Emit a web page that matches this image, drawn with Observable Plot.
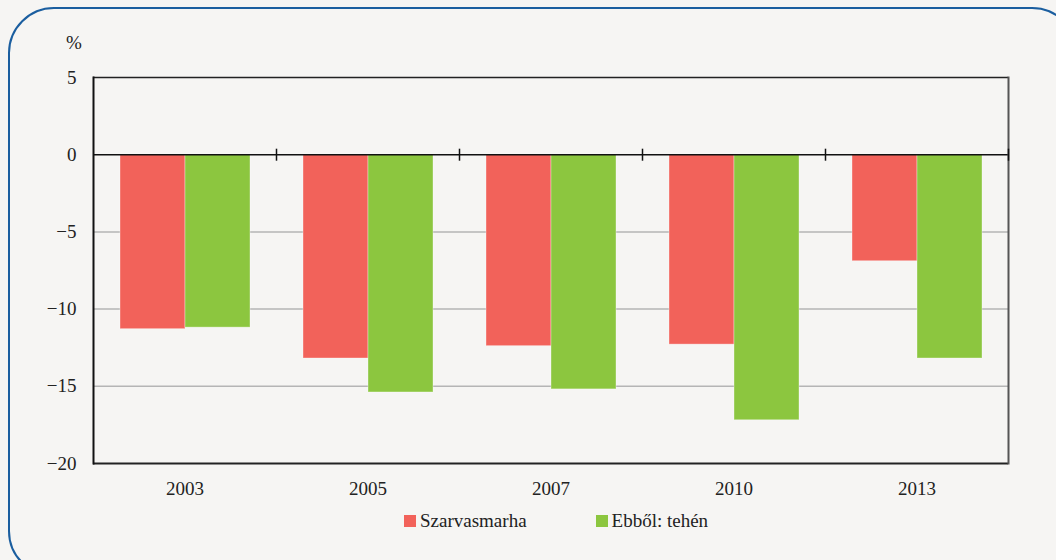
<!DOCTYPE html>
<html>
<head>
<meta charset="utf-8">
<script src="https://cdn.jsdelivr.net/npm/d3@7"></script>
<script src="https://cdn.jsdelivr.net/npm/@observablehq/plot@0.6"></script>
<style>
  html, body { margin: 0; padding: 0; background: #f6f5f3; width: 1056px; height: 560px; overflow: hidden; }
  #box { position: absolute; left: 8px; top: 7px; width: 1070px; height: 570px; border: 2px solid #1b5e9f; border-radius: 46px; box-sizing: border-box; }
  #chart { position: absolute; left: 0; top: 0; }
  #chart svg text { font-family: "Liberation Serif", "DejaVu Serif", serif !important; fill: #222; }
  #pct { position: absolute; left: 66px; top: 32px; font: 19px "Liberation Serif", "DejaVu Serif", serif; color: #222; }
  #legend { position: absolute; left: 404px; top: 510px; font: 19px "Liberation Serif", "DejaVu Serif", serif; color: #222; display: flex; }
  .item { display: flex; align-items: center; }
  .item + .item { margin-left: 69px; }
  .sw { width: 12px; height: 12px; margin-right: 4px; display: inline-block; }
</style>
</head>
<body>
<div id="box"></div>
<div id="chart"></div>
<div id="pct">%</div>
<div id="legend"></div>
<script>
const years = ["2003", "2005", "2007", "2010", "2013"];
const series = ["Szarvasmarha", "Ebből: tehén"];
const colors = ["#f2625a", "#8cc63f"];
const szarvasmarha = [-11.3, -13.2, -12.4, -12.3, -6.9];
const tehen = [-11.2, -15.4, -15.2, -17.2, -13.2];
const yTicks = [5, 0, -5, -10, -15, -20];
const gridTicks = [-5, -10, -15];

const data = [];
years.forEach((yr, i) => {
  data.push({year: yr, series: series[0], value: szarvasmarha[i]});
  data.push({year: yr, series: series[1], value: tehen[i]});
});

const vline = { draw(context, size) { const h = Math.sqrt(size / Math.PI); context.moveTo(0, -h); context.lineTo(0, h); } };

const font = '"Liberation Serif", "DejaVu Serif", serif';
const chart = Plot.plot({
  width: 1056,
  height: 500,
  marginLeft: 92,
  marginRight: 47,
  marginTop: 77,
  marginBottom: 37,
  style: { background: "transparent", fontFamily: font, fontSize: "19px", color: "#222" },
  fx: { domain: years, padding: 0, label: null },
  x: { domain: series, paddingInner: 0, paddingOuter: 0.4, axis: null },
  y: { domain: [-20, 5], ticks: yTicks, label: null },
  color: { domain: series, range: colors },
  marks: [
    Plot.ruleY(gridTicks, { stroke: "#b5b5b5", strokeWidth: 1.5 }),
    Plot.barY(data, { fx: "year", x: "series", y: "value", fill: "series", stroke: "#ffffff", strokeOpacity: 0.35, strokeWidth: 1 }),
    Plot.ruleY([0], { stroke: "#111", strokeWidth: 1.5 }),
    Plot.ruleY([5], { stroke: "#222", strokeWidth: 1.5 }),
    Plot.ruleY([-20], { stroke: "#222", strokeWidth: 2 }),
    Plot.frame({ anchor: "left", facetAnchor: "left", stroke: "#111", strokeWidth: 2 }),
    Plot.frame({ anchor: "right", facetAnchor: "right", stroke: "#555", strokeWidth: 2 }),
    Plot.dot(years, { fx: d => d, y: () => 0, frameAnchor: "right", symbol: vline, r: 6, stroke: "#111", strokeWidth: 1.5 }),
    Plot.axisY({ ticks: yTicks, tickSize: 0, tickPadding: 17, fontSize: 19, label: null }),
    Plot.axisFx({ anchor: "bottom", tickSize: 0, tickPadding: 18, fontSize: 19, label: null })
  ]
});
document.getElementById("chart").appendChild(chart);

const legend = document.getElementById("legend");
series.forEach((s, i) => {
  const item = document.createElement("div");
  item.className = "item";
  const sw = document.createElement("span");
  sw.className = "sw";
  sw.style.background = colors[i];
  item.appendChild(sw);
  item.appendChild(document.createTextNode(s));
  legend.appendChild(item);
});
</script>
</body>
</html>
